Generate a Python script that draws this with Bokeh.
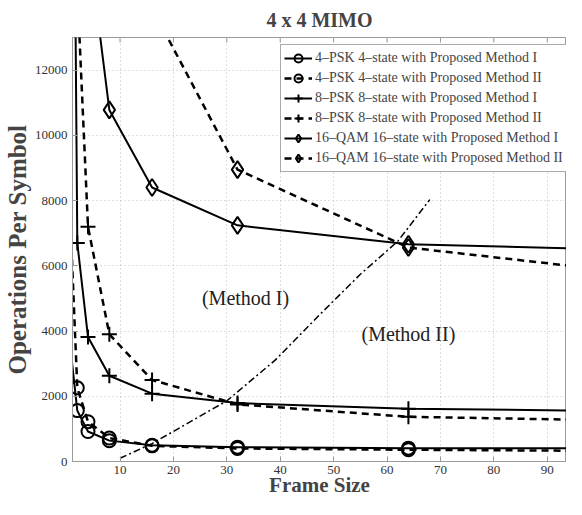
from bokeh.plotting import figure
from bokeh.models import FixedTicker, Legend, LegendItem, Label, Range1d
from bokeh.embed import file_html
from bokeh.resources import INLINE

# ---- data ----
frame_size = [1, 2, 4, 8, 16, 32, 64, 128]
psk4_m1 = [3050, 1560, 920, 640, 500, 440, 410, 395]
psk4_m2 = [6200, 2260, 1220, 720, 480, 400, 360, 300]

psk8_m1_x = [1, 2, 4, 8, 16, 32, 64, 128]
psk8_m1 = [27000, 6700, 3820, 2630, 2080, 1790, 1620, 1500]
psk8_m2_x = [2, 4, 8, 16, 32, 64, 128]
psk8_m2 = [14500, 7200, 3900, 2500, 1750, 1370, 1190]

qam16_m1_x = [4, 8, 16, 32, 64, 128]
qam16_m1 = [16000, 10780, 8400, 7240, 6660, 6400]
qam16_m2_x = [16, 32, 64, 128]
qam16_m2 = [13900, 8950, 6560, 5375]

boundary_x = [10, 16, 30, 39, 47.5, 55, 62, 68]
boundary_y = [100, 550, 1860, 3100, 4520, 5740, 6750, 8030]

x_ticks = [10, 20, 30, 40, 50, 60, 70, 80, 90]
y_ticks = [0, 2000, 4000, 6000, 8000, 10000, 12000]

labels = [
    "4\u2013PSK 4\u2013state with Proposed Method I",
    "4\u2013PSK 4\u2013state with Proposed Method II",
    "8\u2013PSK 8\u2013state with Proposed Method I",
    "8\u2013PSK 8\u2013state with Proposed Method II",
    "16\u2013QAM 16\u2013state with Proposed Method I",
    "16\u2013QAM 16\u2013state with Proposed Method II",
]

SERIF = "Liberation Serif"
X_MIN, X_MAX, Y_MIN, Y_MAX = 1.1, 93.6, 0, 13000

p = figure(width=566, height=499, output_backend="svg", toolbar_location=None,
           x_range=Range1d(X_MIN, X_MAX), y_range=Range1d(Y_MIN, Y_MAX),
           min_border_left=64, min_border_right=0, min_border_top=34, min_border_bottom=0)

p.title.text = "4 x 4 MIMO"
p.title.align = "center"
p.title.text_font = SERIF
p.title.text_font_size = "20px"
p.title.text_font_style = "bold"
p.title.standoff = 13

p.outline_line_color = "#9a9a9a"
p.background_fill_color = "white"

# axes
p.xaxis.ticker = FixedTicker(ticks=x_ticks)
p.yaxis.ticker = FixedTicker(ticks=y_ticks)
p.xaxis.axis_label = "Frame Size"
p.yaxis.axis_label = "Operations Per Symbol"
for ax in (p.xaxis, p.yaxis):
    ax.axis_label_text_font = SERIF
    ax.axis_label_text_font_style = "bold"
    ax.major_label_text_font = SERIF
    ax.major_label_text_font_size = "13px"
    ax.major_label_text_color = "#333333"
    ax.axis_line_color = "#9a9a9a"
    ax.major_tick_line_color = "#9a9a9a"
    ax.major_tick_in = 5
    ax.major_tick_out = 0
    ax.minor_tick_line_color = None
p.xaxis.axis_label_text_font_size = "21px"
p.xaxis.axis_label_text_color = "#444444"
p.xaxis.major_label_standoff = 4
p.xaxis.axis_label_standoff = -4
p.yaxis.axis_label_text_font_size = "25px"
p.yaxis.axis_label_text_color = "#444444"
p.yaxis.axis_label_text_line_height = 0.9
p.yaxis.major_label_standoff = 5
p.yaxis.axis_label_standoff = 1

# small inward ticks along the top border (box style), from the tick list
top_tick_len = (Y_MAX - Y_MIN) * 0.012
p.segment(x0=x_ticks, y0=[Y_MAX] * len(x_ticks), x1=x_ticks,
          y1=[Y_MAX - top_tick_len] * len(x_ticks), line_color="#9a9a9a", line_width=1)

p.xgrid.grid_line_color = "#bdbdbd"
p.ygrid.grid_line_color = "#bdbdbd"
p.xgrid.grid_line_dash = "1 3"
p.ygrid.grid_line_dash = "1 3"

DASH = "7 5"
items = []

def series(x, y, dash, marker, size, lw, label):
    ln = p.line(x, y, line_color="black", line_width=lw, line_dash=dash)
    mx = [a for a in x if a >= 2]
    my = [b for a, b in zip(x, y) if a >= 2]
    sc = p.scatter(mx, my, marker=marker, size=size, line_color="black",
                   line_width=2, fill_alpha=0)
    items.append(LegendItem(label=label, renderers=[ln, sc]))

series(frame_size, psk4_m1, "solid", "circle", 13, 2, labels[0])
series(frame_size, psk4_m2, DASH, "circle", 13, 2.5, labels[1])
series(psk8_m1_x, psk8_m1, "solid", "cross", 15, 2, labels[2])
series(psk8_m2_x, psk8_m2, DASH, "cross", 15, 2.5, labels[3])
series(qam16_m1_x, qam16_m1, "solid", "diamond", 17, 2, labels[4])
series(qam16_m2_x, qam16_m2, DASH, "diamond", 17, 2.5, labels[5])

p.line(boundary_x, boundary_y, line_color="black", line_width=1.5, line_dash="7 3 2 3")

p.add_layout(Label(x=33.5, y=5000, text="(Method I)", text_align="center",
                   text_baseline="middle", text_font=SERIF, text_font_size="20px",
                   text_color="#222222"))
p.add_layout(Label(x=64, y=3900, text="(Method II)", text_align="center",
                   text_baseline="middle", text_font=SERIF, text_font_size="20px",
                   text_color="#222222"))

legend = Legend(items=items, location=(208, 289))
legend.label_text_font = SERIF
legend.label_text_font_size = "14px"
legend.label_height = 20
legend.glyph_height = 20
legend.glyph_width = 28
legend.label_standoff = 3
legend.spacing = 0
legend.padding = 3
legend.margin = 0
legend.border_line_color = "#555555"
legend.border_line_width = 1
legend.background_fill_alpha = 1
p.add_layout(legend, "center")

open("out.html", "w").write(file_html(p, INLINE))
